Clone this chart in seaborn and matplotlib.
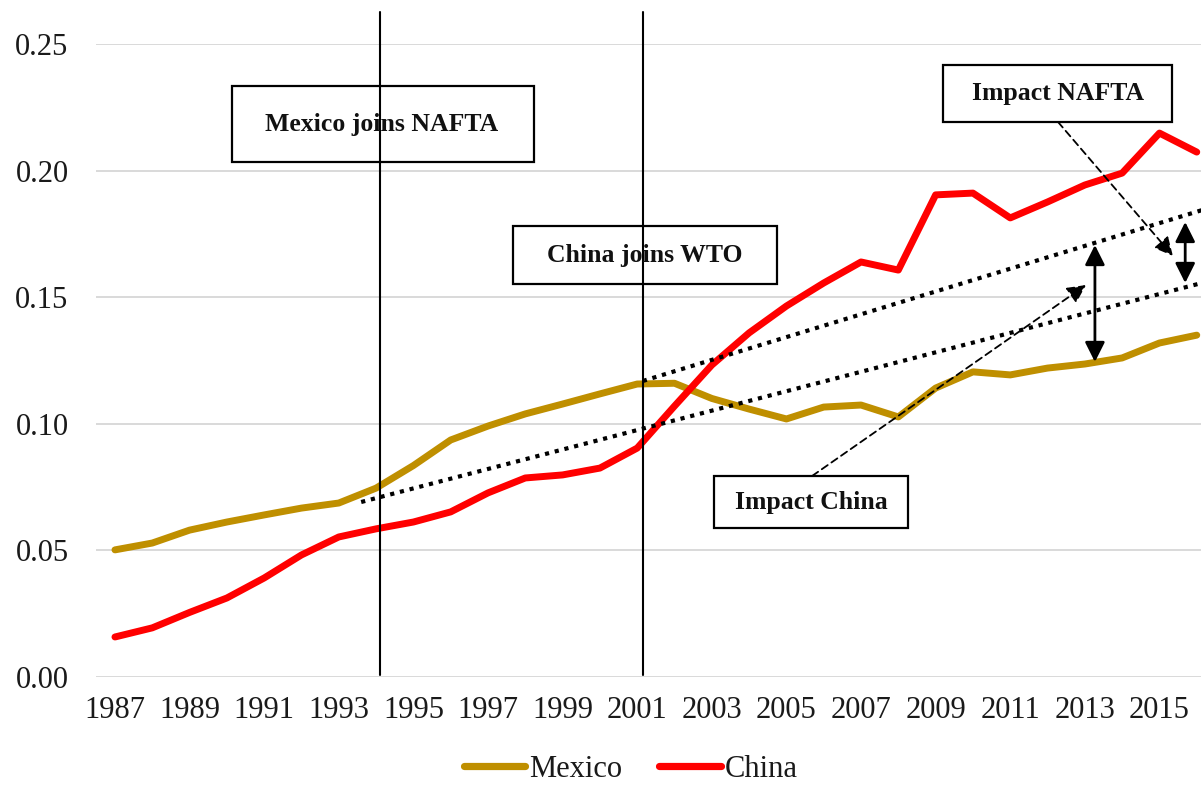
import numpy as np
import pandas as pd
import matplotlib
matplotlib.use("Agg")
import matplotlib.pyplot as plt
from matplotlib.patches import Rectangle
from matplotlib.lines import Line2D
import seaborn as sns

# ---------------- data ----------------
years = list(range(1987, 2017))
mexico = [0.0502, 0.0529, 0.0580, 0.0612, 0.0640, 0.0667, 0.0687, 0.0746, 0.0835, 0.0936,
          0.0991, 0.1039, 0.1078, 0.1118, 0.1157, 0.1160, 0.1100, 0.1058, 0.1019, 0.1066,
          0.1074, 0.1027, 0.1141, 0.1205, 0.1193, 0.1220, 0.1236, 0.1260, 0.1319, 0.1350]
china = [0.0158, 0.0194, 0.0255, 0.0312, 0.0391, 0.0482, 0.0553, 0.0585, 0.0612, 0.0652,
         0.0727, 0.0786, 0.0798, 0.0825, 0.0904, 0.1070, 0.1232, 0.1359, 0.1465, 0.1556,
         0.1639, 0.1607, 0.1904, 0.1911, 0.1813, 0.1876, 0.1943, 0.1990, 0.2148, 0.2073]
series_names = ["Mexico", "China"]

# trend lines (start / end)
trend_pre_x = [1993.6, 2016.5]
trend_pre_y = [0.0691, 0.1570]
trend_post_x = [2001.15, 2016.5]
trend_post_y = [0.1169, 0.1860]

event_years = [1994.1, 2001.15]
xtick_years = list(range(1987, 2016, 2))
ytick_vals = [0.00, 0.05, 0.10, 0.15, 0.20, 0.25]

df = pd.DataFrame({
    "year": years * 2,
    "value": mexico + china,
    "country": ["Mexico"] * len(years) + ["China"] * len(years),
})

# ---------------- style ----------------
sns.set_theme(style="white")
plt.rcParams["font.family"] = ["Liberation Serif", "DejaVu Serif"]

GOLD = "#BF8F00"
RED = "#FF0000"
palette = {"Mexico": GOLD, "China": RED}

fig = plt.figure(figsize=(12.01, 7.85), dpi=100)
ax = fig.add_axes([0.0802, 0.1376, 0.9318, 0.8064])

ax.set_xlim(1986.5, 2016.5)
ax.set_ylim(0, 0.25)

ax.yaxis.grid(True, color="#D9D9D9", lw=1.4, zorder=0)
ax.xaxis.grid(False)
for s in ax.spines.values():
    s.set_visible(False)

sns.lineplot(data=df, x="year", y="value", hue="country", palette=palette,
             linewidth=5.0, ax=ax, legend=False, zorder=4,
             solid_capstyle="round", solid_joinstyle="round")

# trend lines
for tx, ty in [(trend_pre_x, trend_pre_y), (trend_post_x, trend_post_y)]:
    ax.plot(tx, ty, color="black", lw=3.0, linestyle=(0, (1.0, 1.4)),
            dash_capstyle="butt", zorder=5)

# vertical event lines
for ex in event_years:
    ax.plot([ex, ex], [0.0008, 0.2628], color="black", lw=1.5, zorder=6, clip_on=False)

ax.set_xticks(xtick_years)
ax.set_xticklabels([str(y) for y in xtick_years])
ax.set_yticks(ytick_vals)
ax.set_yticklabels([f"{v:.2f}" for v in ytick_vals])
ax.tick_params(axis="both", length=0, labelsize=22, labelcolor="#1a1a1a")
ax.tick_params(axis="y", pad=20)
ax.tick_params(axis="x", pad=14)
ax.set_xlabel("")
ax.set_ylabel("")

# boxes: (x0, x1, y0, y1, text, tx, ty)
boxes = [
    (1990.14, 1998.23, 0.2034, 0.2334, "Mexico joins NAFTA", 1994.15, 0.2183),
    (1997.67, 2004.75, 0.1552, 0.1781, "China joins WTO", 2001.2, 0.1665),
    (2009.2, 2015.34, 0.2192, 0.2417, "Impact NAFTA", 2012.27, 0.2303),
    (2003.06, 2008.26, 0.0588, 0.0794, "Impact China", 2005.66, 0.0689),
]
for x0, x1, y0, y1, txt, tx, ty in boxes:
    ax.add_patch(Rectangle((x0, y0), x1 - x0, y1 - y0, facecolor="white",
                           edgecolor="black", lw=1.6, zorder=3))
    ax.text(tx, ty, txt, ha="center", va="center", fontsize=18.5,
            fontweight="bold", color="#111111", zorder=7)

# double-headed arrows
for x, ya, yb in [(2013.27, 0.1706, 0.1244), (2015.69, 0.1797, 0.1556)]:
    ax.annotate("", xy=(x, yb), xytext=(x, ya),
                arrowprops=dict(arrowstyle="<|-|>", mutation_scale=30, lw=2,
                                color="black", shrinkA=0, shrinkB=0), zorder=8)

# dashed pointer arrows
for (xa, ya), (xb, yb) in [((2012.28, 0.2192), (2015.36, 0.1663)),
                           ((2005.69, 0.0794), (2013.03, 0.1548))]:
    ax.annotate("", xy=(xb, yb), xytext=(xa, ya),
                arrowprops=dict(arrowstyle="-|>", mutation_scale=28, lw=1.3,
                                linestyle=(0, (4, 2.5)), color="black",
                                shrinkA=0, shrinkB=0), zorder=8)

# legend
handles = [Line2D([0], [0], color=palette[n], lw=5.2, solid_capstyle="round") for n in series_names]
fig.legend(handles, series_names, loc="center", bbox_to_anchor=(631 / 1201, 0.02),
           ncol=2, frameon=False, fontsize=22, handlelength=2.0, handletextpad=0.15,
           columnspacing=1.2, labelcolor="#1a1a1a")

fig.savefig("out.png", dpi=100)
